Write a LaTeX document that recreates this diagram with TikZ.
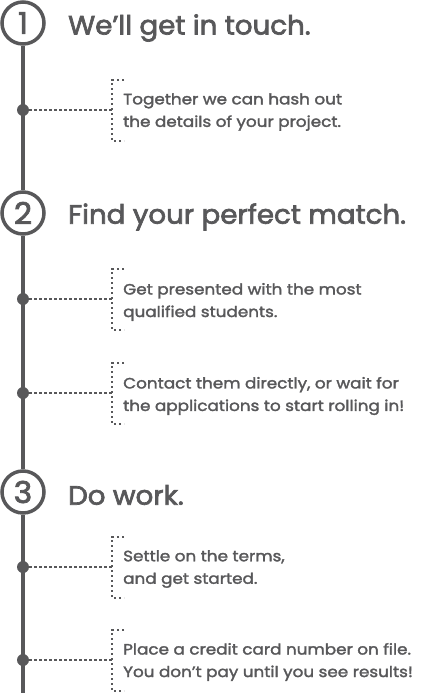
\documentclass[tikz,border=0pt]{standalone}
\usepackage{fontspec}
\setmainfont{Poppins}
\newfontfamily\headfont[FakeBold=2.6,FakeStretch=1.045]{Poppins}
\newfontfamily\notefont[FakeBold=2,FakeStretch=1.12]{Poppins}
\usetikzlibrary{positioning}
\definecolor{linecolor}{HTML}{58585A}
\tikzset{
  stepnum/.style={circle,draw=linecolor,line width=3.5pt,minimum size=42pt,inner sep=0pt,text=linecolor,font=\headfont\fontsize{30}{30}\selectfont},
  heading/.style={anchor=west,text=linecolor,font=\headfont\fontsize{26.5}{26.5}\selectfont,inner sep=0pt},
  stepdot/.style={circle,fill=linecolor,minimum size=12pt,inner sep=0pt},
  spine/.style={linecolor,line width=4pt},
  dots/.style={linecolor,line width=2.4pt,dash pattern=on 2.4pt off 2.6pt},
  note/.style={anchor=west,align=left,text=linecolor,inner sep=0pt,font=\notefont\fontsize{15}{22.5}\selectfont}
}
\begin{document}
\begin{tikzpicture}[x=1pt,y=-1pt]
 \useasboundingbox (0,0) rectangle (440,693);
 % steps
 \node [stepnum] (s1) at (23,23) {1};
 \node [stepnum] (s2) at (23,213) {2};
 \node [stepnum] (s3) at (23,492) {3};
 \node [heading] (h1) at (68,28) {We’ll get in touch.};
 \node [heading] (h2) at (68,217) {Find your perfect match.};
 \node [heading] (h3) at (68,495) {Do work.};
 \coordinate (end) at (23,693);
 \draw [spine] (s1) -- (s2);
 \draw [spine] (s2) -- (s3);
 \draw [spine] (s3) -- (end);
 % items
 \node [stepdot] (d1) at (23,110) {};
 \node [stepdot] (d2) at (23,299) {};
 \node [stepdot] (d3) at (23,393) {};
 \node [stepdot] (d4) at (23,567) {};
 \node [stepdot] (d5) at (23,660) {};
 \coordinate (b1) at (112,110);
 \coordinate (b2) at (112,299);
 \coordinate (b3) at (112,393);
 \coordinate (b4) at (112,567);
 \coordinate (b5) at (112,660);
 \draw [dots] (d1) -- (b1);
 \draw [dots] (d2) -- (b2);
 \draw [dots] (d3) -- (b3);
 \draw [dots] (d4) -- (b4);
 \draw [dots] (d5) -- (b5);
 \draw [dots] ([xshift=12pt,yshift=30pt]b1) -- ([yshift=30pt]b1) -- ([yshift=-31pt]b1) -- ([xshift=12pt,yshift=-31pt]b1);
 \draw [dots] ([xshift=12pt,yshift=30pt]b2) -- ([yshift=30pt]b2) -- ([yshift=-31pt]b2) -- ([xshift=12pt,yshift=-31pt]b2);
 \draw [dots] ([xshift=12pt,yshift=30pt]b3) -- ([yshift=30pt]b3) -- ([yshift=-31pt]b3) -- ([xshift=12pt,yshift=-31pt]b3);
 \draw [dots] ([xshift=12pt,yshift=30pt]b4) -- ([yshift=30pt]b4) -- ([yshift=-31pt]b4) -- ([xshift=12pt,yshift=-31pt]b4);
 \draw [dots] ([xshift=12pt,yshift=30pt]b5) -- ([yshift=30pt]b5) -- ([yshift=-31pt]b5) -- ([xshift=12pt,yshift=-31pt]b5);
 \node [note] (t1) at (123,112) {Together we can hash out\\the details of your project.};
 \node [note] (t2) at (123,302) {Get presented with the most\\qualified students.};
 \node [note] (t3) at (123,396) {Contact them directly, or wait for\\the applications to start rolling in!};
 \node [note] (t4) at (123,569) {Settle on the terms,\\and get started.};
 \node [note] (t5) at (123,662) {Place a credit card number on file.\\You don’t pay until you see results!};
\end{tikzpicture}
\end{document}
